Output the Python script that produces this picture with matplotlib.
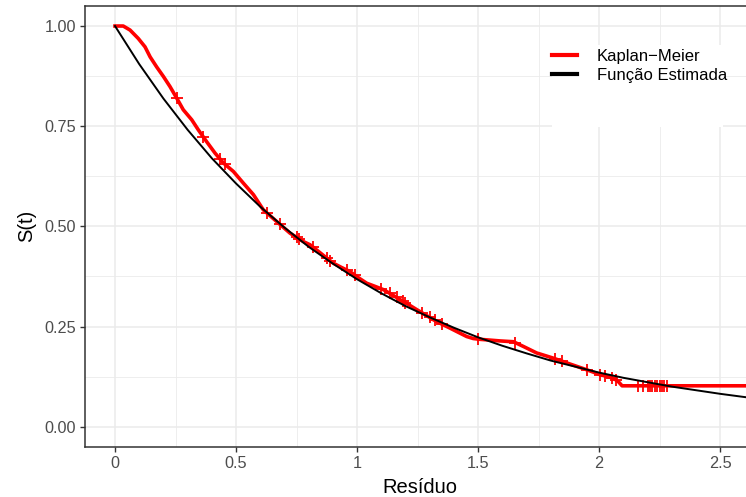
import matplotlib.pyplot as plt
import matplotlib.patches as mpatches
import numpy as np

plt.rcParams["font.family"] = ["Liberation Sans", "DejaVu Sans"]

# Kaplan-Meier
km_t = [0.0, 0.034, 0.062, 0.096, 0.124, 0.145, 0.172, 0.2, 0.227, 0.255,
        0.282, 0.317, 0.344, 0.379, 0.413, 0.448, 0.489, 0.53, 0.572, 0.613,
        0.668, 0.723, 0.778, 0.806, 0.833, 0.868, 0.902, 0.937, 0.971,
        1.005, 1.04, 1.075, 1.109, 1.143, 1.178, 1.212, 1.247, 1.28, 1.315,
        1.35, 1.384, 1.42, 1.453, 1.48, 1.508, 1.55, 1.591, 1.646, 1.688,
        1.742, 1.811, 1.867, 1.949, 2.004, 2.059, 2.08, 2.095, 2.15, 2.3,
        2.45, 2.64]
km_s = [1.0, 1.0, 0.990, 0.969, 0.948, 0.923, 0.898, 0.874, 0.849, 0.820,
        0.791, 0.766, 0.741, 0.711, 0.683, 0.658, 0.637, 0.608, 0.579, 0.541,
        0.512, 0.483, 0.462, 0.454, 0.441, 0.424, 0.408, 0.397, 0.387,
        0.372, 0.358, 0.35, 0.342, 0.33, 0.317, 0.305, 0.292, 0.28, 0.267,
        0.256, 0.246, 0.235, 0.225, 0.22, 0.218, 0.216, 0.214, 0.212, 0.2,
        0.184, 0.171, 0.159, 0.142, 0.13, 0.121, 0.112, 0.102, 0.102, 0.102,
        0.102, 0.102]

# censored times
cens_t = [0.255, 0.365, 0.434, 0.455, 0.627, 0.682, 0.75, 0.76, 0.82,
          0.875, 0.888, 0.96, 0.99, 1.1, 1.136, 1.163, 1.19, 1.2, 1.27, 1.30,
          1.32, 1.35, 1.50, 1.653, 1.818, 1.845, 1.949, 2.004, 2.025, 2.052,
          2.07, 2.16, 2.18, 2.20, 2.21, 2.22, 2.23, 2.24, 2.25, 2.26, 2.27, 2.28]

# estimated survival function
fit_t = [0.0, 0.1, 0.2, 0.3, 0.4, 0.5, 0.6, 0.7, 0.8, 0.9, 1.0, 1.1, 1.2, 1.3,
         1.4, 1.5, 1.6, 1.7, 1.8, 1.9, 2.0, 2.1, 2.2, 2.3, 2.4, 2.5, 2.6, 2.64]
fit_s = [1.0, 0.905, 0.819, 0.741, 0.670, 0.607, 0.549, 0.497, 0.449, 0.407,
         0.368, 0.333, 0.301, 0.273, 0.247, 0.223, 0.202, 0.183, 0.165, 0.150,
         0.135, 0.122, 0.111, 0.100, 0.091, 0.082, 0.074, 0.071]

fig = plt.figure(figsize=(7.46, 4.97), dpi=100)
ax = fig.add_axes([85 / 746, 50.3 / 497, 669 / 746, 440.7 / 497])

ax.plot(km_t, km_s, color="red", lw=2.6, solid_joinstyle="round", zorder=3)
cens_s = np.interp(cens_t, km_t, km_s)
ax.plot(cens_t, cens_s, ls="none", marker="+", ms=9, mew=1.3, color="red", zorder=3)
ax.plot(fit_t, fit_s, color="black", lw=1.4, zorder=4)

ax.set_xlim(-0.124, 2.64)
ax.set_ylim(-0.05, 1.05)
ax.set_xticks([0, 0.5, 1, 1.5, 2, 2.5])
ax.set_xticklabels(["0", "0.5", "1", "1.5", "2", "2.5"])
ax.set_yticks([0, 0.25, 0.5, 0.75, 1.0])
ax.set_yticklabels(["0.00", "0.25", "0.50", "0.75", "1.00"])
ax.set_xticks([0.25, 0.75, 1.25, 1.75, 2.25], minor=True)
ax.set_yticks([0.125, 0.375, 0.625, 0.875], minor=True)
ax.grid(True, which="major", color="#EBEBEB", lw=1.1)
ax.grid(True, which="minor", color="#EBEBEB", lw=0.6)
ax.set_axisbelow(True)
ax.tick_params(which="major", length=3.5, width=1, color="#333333",
               labelcolor="#4D4D4D", labelsize=11.7, pad=3)
ax.tick_params(which="minor", length=0)
for side in ["left", "bottom", "top", "right"]:
    ax.spines[side].set_color("#333333")
    ax.spines[side].set_linewidth(1.1)

ax.set_xlabel("Resíduo", fontsize=14.5, labelpad=5.5)
ax.set_ylabel("S(t)", fontsize=14.5, labelpad=6)

# legend area (white box)
fig.patches.append(mpatches.Rectangle((552 / 746, 1 - 127 / 497), 171 / 746, 82 / 497,
                                      transform=fig.transFigure, facecolor="white",
                                      edgecolor="none", zorder=1))
ax.plot([], [], color="red", lw=3, label="Kaplan−Meier")
ax.plot([], [], color="black", lw=3, label="Função Estimada")
leg = fig.legend(*ax.get_legend_handles_labels(), loc="upper left",
                 bbox_to_anchor=(552 / 746, 1 - 49 / 497), frameon=False, borderpad=0,
                 borderaxespad=0, fontsize=12, handlelength=1.5, handletextpad=1.2,
                 labelspacing=0.25)
leg.set_zorder(5)

fig.savefig("out.png", dpi=100)
